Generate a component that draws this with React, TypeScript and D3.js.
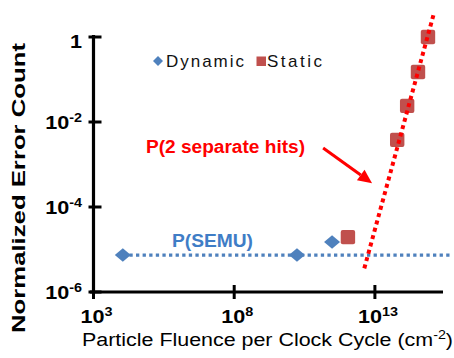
import React from "react";
import * as d3 from "d3";

// Data
const dynamicFluence = [1.1e4, 1.7e10, 3.0e11];
const dynamicErrors = [7.4e-6, 7.4e-6, 1.5e-5];
const staticFluence = [1.1e12, 6.2e13, 1.4e14, 3.4e14, 7.7e14];
const staticErrors = [1.95e-5, 3.8e-3, 0.024, 0.15, 1.0];
const twoHitFluence = [4.2e12, 1.26e15];
const twoHitErrors = [3.6e-6, 3.67];
const semuFluence = [1.1e4, 5.5e15];
const semuErrors = [7.4e-6, 7.4e-6];
const xTickExponents = [3, 8, 13];
const yTickExponents = [0, -2, -4, -6];
const legendLabels = ["Dynamic", "Static"];
const arrowFrom = [10 ** 11.16, 10 ** -2.61];
const arrowTo = [10 ** 12.9, 10 ** -3.44];

const BLUE = "#4F81BD";
const SQUARE_RED = "#C0504D";
const RED = "#FF0000";
const FONT = "'Liberation Sans', Arial, sans-serif";

export default function App() {
  const x = d3.scaleLog().domain([1e3, 10 ** 15.42]).range([93.5, 443]);
  const y = d3.scaleLog().domain([1e-6, 1]).range([292, 37]);
  const x0 = x(1e3);
  const y0 = y(1e-6);

  const line = d3
    .line<[number, number]>()
    .x((d) => x(d[0]))
    .y((d) => y(d[1]));

  const semu = semuFluence.map((f, i) => [f, semuErrors[i]] as [number, number]);
  const twoHit = twoHitFluence.map((f, i) => [f, twoHitErrors[i]] as [number, number]);

  const diamond = (cx: number, cy: number, hw: number, hh: number) =>
    `M${cx},${cy - hh}L${cx + hw},${cy}L${cx},${cy + hh}L${cx - hw},${cy}Z`;

  // arrow geometry
  const ax1 = x(arrowFrom[0]);
  const ay1 = y(arrowFrom[1]);
  const ax2 = x(arrowTo[0]);
  const ay2 = y(arrowTo[1]);
  const ang = Math.atan2(ay2 - ay1, ax2 - ax1);
  const headLen = 14;
  const headW = 6.5;
  const bx = ax2 - headLen * Math.cos(ang);
  const by = ay2 - headLen * Math.sin(ang);
  const px = -Math.sin(ang);
  const py = Math.cos(ang);
  const head = `M${ax2},${ay2}L${bx + headW * px},${by + headW * py}L${bx - headW * px},${by - headW * py}Z`;

  return (
    <svg
      width={454}
      height={358}
      style={{ position: "absolute", left: 0, top: 0, background: "#fff" }}
      fontFamily={FONT}
    >
      <rect width={454} height={358} fill="#fff" />
      {/* axes */}
      <line x1={x0} y1={35} x2={x0} y2={y0 + 1.5} stroke="#000" strokeWidth={3.2} />
      <line x1={x0 - 3.5} y1={y0} x2={443} y2={y0} stroke="#000" strokeWidth={3.2} />
      {yTickExponents.map((e) => (
        <line key={"yt" + e} x1={x0 - 5} x2={x0 + 8} y1={y(10 ** e)} y2={y(10 ** e)} stroke="#000" strokeWidth={3} />
      ))}
      {xTickExponents.map((e) => (
        <line key={"xt" + e} x1={x(10 ** e)} x2={x(10 ** e)} y1={y0 - 7} y2={y0 + 7} stroke="#000" strokeWidth={3} />
      ))}
      {/* y tick labels */}
      {yTickExponents.map((e) => (
        <text
          key={"yl" + e}
          transform={`translate(82,${e === 0 ? 48 : y(10 ** e) + 7}) scale(1.2,1)`}
          textAnchor="end"
          fontSize={18}
          fontWeight="bold"
          fill="#000"
        >
          {e === 0 ? (
            "1"
          ) : (
            <>
              10
              <tspan fontSize={12} dy={-7}>
                {String(e).replace("-", "-")}
              </tspan>
            </>
          )}
        </text>
      ))}
      {/* x tick labels */}
      {xTickExponents.map((e) => (
        <text
          key={"xl" + e}
          transform={`translate(${x(10 ** e) + 3},323) scale(1.2,1)`}
          textAnchor="middle"
          fontSize={18}
          fontWeight="bold"
          fill="#000"
        >
          10
          <tspan fontSize={12} dy={-7}>
            {e}
          </tspan>
        </text>
      ))}
      {/* axis titles */}
      <text
        transform="translate(25,333) rotate(-90)"
        fontSize={18}
        fontWeight="bold"
        fill="#000"
        textLength={290}
        lengthAdjust="spacingAndGlyphs"
      >
        Normalized Error Count
      </text>
      <text x={82} y={346} fontSize={18} fill="#000" textLength={371} lengthAdjust="spacingAndGlyphs">
        Particle Fluence per Clock Cycle (cm
        <tspan fontSize={12} dy={-7}>
          -2
        </tspan>
        <tspan dy={7}>)</tspan>
      </text>

      {/* markers */}
      {dynamicFluence.map((f, i) => (
        <path key={"d" + i} d={diamond(x(f), y(dynamicErrors[i]), 8, 6.8)} fill={BLUE} />
      ))}
      {staticFluence.map((f, i) => (
        <rect
          key={"s" + i}
          x={x(f) - 7.2}
          y={y(staticErrors[i]) - 7.2}
          width={14.4}
          height={14.4}
          rx={2}
          fill={SQUARE_RED}
        />
      ))}

      {/* fit lines */}
      <path d={line(semu) || ""} fill="none" stroke={BLUE} strokeWidth={3.3} strokeDasharray="3.3,3.3" />
      <path d={line(twoHit) || ""} fill="none" stroke={RED} strokeWidth={4} strokeDasharray="4,3.6" />

      {/* legend */}
      <path d={diamond(158, 61, 5, 5)} fill={BLUE} />
      <text x={166} y={67} fontSize={17} fill="#111" textLength={78} lengthAdjust="spacing">
        {legendLabels[0]}
      </text>
      <rect x={256.5} y={56.5} width={9.5} height={9.5} fill={SQUARE_RED} />
      <text x={267} y={67} fontSize={17} fill="#111" textLength={55} lengthAdjust="spacing">
        {legendLabels[1]}
      </text>

      {/* annotations */}
      <text x={146} y={153} fontSize={18} fontWeight="bold" fill={RED} textLength={159} lengthAdjust="spacingAndGlyphs">
        P(2 separate hits)
      </text>
      <text x={172} y={247} fontSize={19} fontWeight="bold" fill="#3F7DC6" textLength={81} lengthAdjust="spacingAndGlyphs">
        P(SEMU)
      </text>
      <line x1={ax1} y1={ay1} x2={bx} y2={by} stroke={RED} strokeWidth={3} />
      <path d={head} fill={RED} />
    </svg>
  );
}
